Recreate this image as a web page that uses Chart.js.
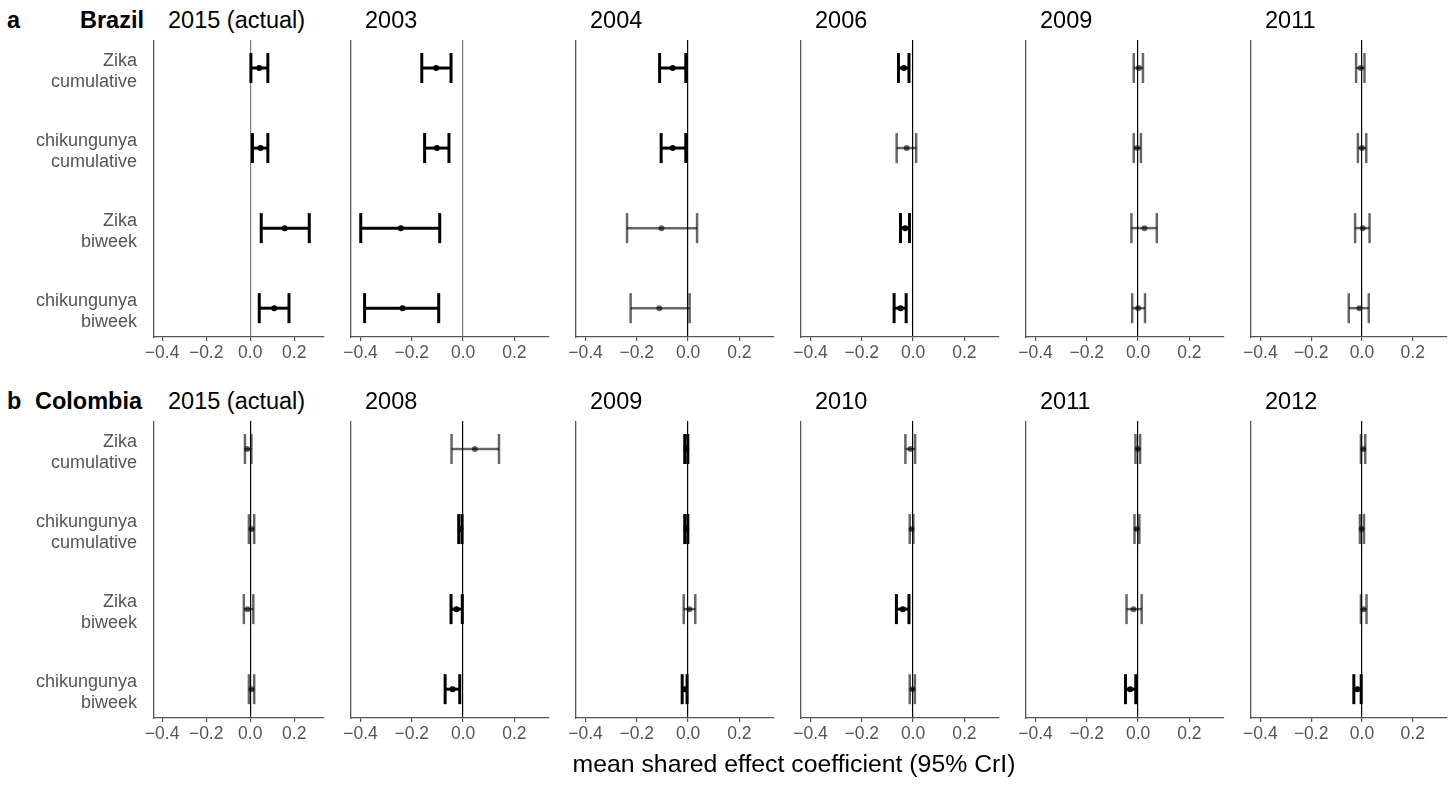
<!DOCTYPE html>
<html><head><meta charset="utf-8">
<script src="https://cdn.jsdelivr.net/npm/chart.js@4"></script>
<style>
body{margin:0;background:#fff;width:1456px;height:786px;position:relative;overflow:hidden;font-family:"Liberation Sans",Arial,sans-serif;}
canvas{position:absolute}
.t{position:absolute;font-size:23.5px;line-height:23.5px;color:#000;white-space:nowrap}
.b{font-weight:bold}
</style></head><body>
<script>
// ---------- data ----------
const CATEGORIES = [["Zika","cumulative"],["chikungunya","cumulative"],["Zika","biweek"],["chikungunya","biweek"]];
const X_TICKS = [-0.4, -0.2, 0, 0.2];
const BRAZIL_YEARS = ["2015 (actual)","2003","2004","2006","2009","2011"];
const COLOMBIA_YEARS = ["2015 (actual)","2008","2009","2010","2011","2012"];

// rows per panel: Zika cumulative, chikungunya cumulative, Zika biweek, chikungunya biweek
const BRAZIL_MEAN = [
  [0.041, 0.047, 0.156, 0.109],
  [-0.105, -0.102, -0.243, -0.236],
  [-0.060, -0.060, -0.104, -0.112],
  [-0.036, -0.025, -0.031, -0.049],
  [0.003, -0.004, 0.025, 0.000],
  [-0.005, 0.000, 0.003, -0.010]
];
const BRAZIL_LOW = [
  [0.003, 0.010, 0.050, 0.041],
  [-0.161, -0.150, -0.399, -0.384],
  [-0.111, -0.105, -0.238, -0.224],
  [-0.057, -0.064, -0.049, -0.074],
  [-0.017, -0.017, -0.026, -0.023],
  [-0.023, -0.016, -0.027, -0.052]
];
const BRAZIL_HIGH = [
  [0.080, 0.080, 0.268, 0.176],
  [-0.047, -0.055, -0.091, -0.095],
  [-0.009, -0.009, 0.035, 0.006],
  [-0.016, 0.012, -0.014, -0.027],
  [0.019, 0.011, 0.073, 0.027],
  [0.010, 0.017, 0.030, 0.027]
];
const COLOMBIA_MEAN = [
  [-0.014, 0.006, -0.012, 0.006],
  [0.046, -0.010, -0.026, -0.041],
  [-0.007, -0.007, 0.005, -0.013],
  [-0.010, -0.006, -0.040, -0.003],
  [-0.001, -0.005, -0.018, -0.031],
  [0.005, -0.001, 0.006, -0.018]
];
const COLOMBIA_LOW = [
  [-0.024, -0.006, -0.029, -0.006],
  [-0.045, -0.017, -0.047, -0.070],
  [-0.013, -0.013, -0.017, -0.023],
  [-0.030, -0.013, -0.065, -0.013],
  [-0.010, -0.014, -0.045, -0.049],
  [-0.004, -0.008, -0.004, -0.032]
];
const COLOMBIA_HIGH = [
  [0.005, 0.018, 0.014, 0.018],
  [0.140, -0.004, -0.003, -0.013],
  [-0.001, -0.001, 0.028, -0.004],
  [0.008, 0.001, -0.016, 0.007],
  [0.008, 0.005, 0.014, -0.009],
  [0.013, 0.008, 0.018, -0.003]
];

// ---------- layout / style ----------
const FONT = '"Liberation Sans", Arial, sans-serif';
const X_MIN = -0.437, X_MAX = 0.335;
const Y_MIN = -0.35, Y_MAX = 3.36;
const PANEL_LEFT = [154, 351, 576, 801, 1026, 1251];
const PANEL_WIDTH = [170, 198, 198, 198, 198, 196];
const ROW_TOP = [40, 421];
const PLOT_H = 297;
const AXIS_H = 33;
const ZERO_COLORS = [["#7a7a7a","#7a7a7a","#000","#000","#000","#000"],["#000","#000","#000","#000","#000","#000"]];

function fmt(v){ if (Math.abs(v) < 1e-9) return "0.0"; return (v < 0 ? "\u2212" : "") + Math.abs(v).toFixed(1); }
function noPad(a){ a.paddingTop = 0; a.paddingBottom = 0; a.paddingLeft = 0; a.paddingRight = 0; }

function makePanel(row, col, mean, low, high) {
  const axW = col === 0 ? PANEL_LEFT[0] : 20;
  const width = PANEL_WIDTH[col];
  const padR = 12;
  const W = axW + width + padR, H = PLOT_H + AXIS_H;
  const c = document.createElement('canvas');
  c.width = W; c.height = H;
  c.style.left = (PANEL_LEFT[col] - axW) + 'px';
  c.style.top = ROW_TOP[row] + 'px';
  c.style.width = W + 'px'; c.style.height = H + 'px';
  document.body.appendChild(c);
  const datasets = [];
  for (let i = 0; i < 4; i++) {
    const sig = low[i] > 0 || high[i] < 0;
    const colr = sig ? '#000' : 'rgba(0,0,0,0.6)';
    const lw = sig ? 3 : 2.5;
    datasets.push({
      type: 'line', showLine: true, order: 2,
      data: [{x: low[i], y: i}, {x: high[i], y: i}],
      borderColor: colr, borderWidth: lw, fill: false, tension: 0,
      pointStyle: 'line', pointRotation: 90, pointRadius: 15,
      pointBorderColor: colr, pointBorderWidth: lw, pointBackgroundColor: colr,
      clip: false
    });
    datasets.push({
      type: 'scatter', showLine: false, order: 1,
      data: [{x: mean[i], y: i}],
      pointStyle: 'circle', pointRadius: 3, pointBackgroundColor: colr,
      pointBorderColor: colr, pointBorderWidth: 0, clip: false
    });
  }
  const zc = ZERO_COLORS[row][col];
  new Chart(c, {
    type: 'scatter',
    data: {datasets},
    options: {
      responsive: false, animation: false, events: [], devicePixelRatio: 1,
      layout: {autoPadding: false, padding: {left: 0, right: padR, top: 0, bottom: 0}},
      plugins: {legend: {display: false}, tooltip: {enabled: false}, title: {display: false}},
      scales: {
        x: {
          type: 'linear', min: X_MIN, max: X_MAX,
          afterBuildTicks: a => { a.ticks = X_TICKS.map(v => ({value: v})); },
          afterFit: a => { a.height = AXIS_H; noPad(a); },
          ticks: {autoSkip: false, maxRotation: 0, minRotation: 0, padding: 2, color: '#555',
                  font: {family: FONT, size: 17.5}, callback: v => fmt(v)},
          grid: {display: true, drawOnChartArea: true, drawTicks: true,
                 color: ctx => (ctx.tick && Math.abs(ctx.tick.value) < 1e-9) ? zc : 'rgba(0,0,0,0)',
                 lineWidth: 1.2, tickColor: '#555', tickLength: 4, tickWidth: 1.2},
          border: {display: true, color: '#555', width: 1.3}
        },
        y: {
          type: 'linear', min: Y_MIN, max: Y_MAX, reverse: true,
          afterBuildTicks: a => { a.ticks = [0,1,2,3].map(v => ({value: v})); },
          afterFit: a => { a.width = axW; noPad(a); },
          ticks: {display: col === 0, autoSkip: false, padding: 17, labelOffset: 3.5, color: '#555',
                  font: {family: FONT, size: 18, lineHeight: 1.15},
                  callback: v => CATEGORIES[v]},
          grid: {display: false, drawTicks: false},
          border: {display: true, color: '#555', width: 1.3}
        }
      }
    }
  });
}

for (let col = 0; col < 6; col++) {
  makePanel(0, col, BRAZIL_MEAN[col], BRAZIL_LOW[col], BRAZIL_HIGH[col]);
  makePanel(1, col, COLOMBIA_MEAN[col], COLOMBIA_LOW[col], COLOMBIA_HIGH[col]);
}

function addText(txt, left, top, cls, extra) {
  const d = document.createElement('div');
  d.className = 't ' + (cls || '');
  d.textContent = txt;
  d.style.left = left + 'px'; d.style.top = top + 'px';
  if (extra) Object.assign(d.style, extra);
  document.body.appendChild(d);
}
const TITLE_TOP = [9, 390];
for (let col = 0; col < 6; col++) {
  addText(BRAZIL_YEARS[col], PANEL_LEFT[col] + 14, TITLE_TOP[0]);
  addText(COLOMBIA_YEARS[col], PANEL_LEFT[col] + 14, TITLE_TOP[1]);
}
addText("a", 7, TITLE_TOP[0], 'b');
addText("Brazil", 80, TITLE_TOP[0], 'b');
addText("b", 7, TITLE_TOP[1], 'b');
addText("Colombia", 35, TITLE_TOP[1], 'b');
addText("mean shared effect coefficient (95% CrI)", 794, 752, '', {transform: 'translateX(-50%)', fontSize: '24.8px', lineHeight: '24.8px'});
</script>
</body></html>
